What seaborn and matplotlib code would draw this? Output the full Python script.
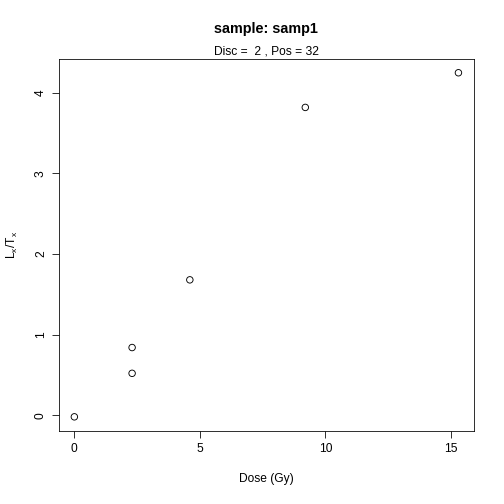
import matplotlib
matplotlib.use("Agg")
import matplotlib.pyplot as plt
import seaborn as sns
import pandas as pd

# values
dose = [0.0, 2.3, 2.3, 4.6, 9.2, 15.3]
lxtx = [-0.02, 0.52, 0.84, 1.68, 3.82, 4.25]
x_ticks = [0, 5, 10, 15]
y_ticks = [0, 1, 2, 3, 4]
title = "sample: samp1"
subtitle = "Disc =  2 , Pos = 32"


def draw_figure(df):
    sns.set_style("ticks")
    plt.rcParams["font.family"] = ["Liberation Sans", "DejaVu Sans"]
    plt.rcParams["mathtext.fontset"] = "custom"
    plt.rcParams["mathtext.rm"] = "Liberation Sans"
    plt.rcParams["mathtext.it"] = "Liberation Sans"
    plt.rcParams["text.color"] = "black"
    plt.rcParams["axes.labelcolor"] = "black"
    plt.rcParams["xtick.color"] = "black"
    plt.rcParams["ytick.color"] = "black"

    fig = plt.figure(figsize=(7, 7), dpi=72)
    ax = fig.add_axes([59 / 504, 73.4 / 504, (473.8 - 59) / 504, (504 - 73.4 - 59) / 504])
    sns.scatterplot(data=df, x="dose", y="lxtx", ax=ax, marker="o", s=42,
                    facecolor="none", edgecolor="black", linewidth=0.9)

    # R style padding of 4% around the data
    xr = max(dose) - min(dose)
    yr = max(lxtx) - min(lxtx)
    ax.set_xlim(min(dose) - 0.04 * xr, max(dose) + 0.04 * xr)
    ax.set_ylim(min(lxtx) - 0.04 * yr, max(lxtx) + 0.04 * yr)

    ax.set_xticks(x_ticks)
    ax.set_yticks(y_ticks)
    ax.tick_params(direction="out", length=7, width=0.8, colors="black",
                   labelsize=12, pad=5)
    for lab in ax.get_yticklabels():
        lab.set_rotation(90)
        lab.set_va("center")
    for sp in ax.spines.values():
        sp.set_visible(True)
        sp.set_color("black")
        sp.set_linewidth(0.8)

    ax.set_xlabel("Dose (Gy)", fontsize=12, labelpad=18, color="black")
    ax.set_ylabel(r"$\mathregular{L_x/T_x}$", fontsize=12, labelpad=15, color="black")
    fig.text(266 / 504, 1 - 29 / 504, title, ha="center", va="center",
             fontsize=14.4, fontweight="bold", color="black")
    ax.text(0.5, 1.003, subtitle, transform=ax.transAxes, ha="center",
            va="bottom", fontsize=12, color="black")

    fig.savefig("out.png", dpi=72)


def main():
    df = pd.DataFrame({"dose": dose, "lxtx": lxtx})
    draw_figure(df)


if __name__ == "__main__":
    main()
